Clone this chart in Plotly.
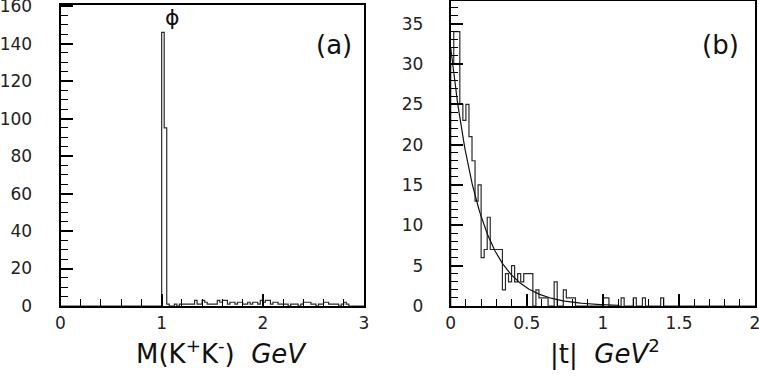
import numpy as np
import plotly.graph_objects as go

# ---------------- data ----------------
# Panel (a): M(K+K-) histogram, bin width 0.025 GeV, first bin starts at 1.0
mass_bin_width = 0.025
mass_start = 1.0
mass_counts = [146, 95,
               1, 0, 0, 1, 0, 1, 1, 1, 1, 1, 1, 3, 1, 1, 3, 2, 1, 1, 1, 1,
               3, 2, 3, 3, 1, 2, 2, 1, 2, 2, 1, 1, 2, 1, 2, 2, 1, 3, 2, 3,
               3, 1, 2, 2, 1, 1, 1, 1, 0, 1, 1, 1, 0, 1, 2, 2, 2, 1, 1, 0,
               1, 1, 2, 2, 1, 1, 1, 1, 0, 1, 2, 1, 0]
mass_range = [0, 3]

# Panel (b): |t| histogram, bin width 0.02 GeV^2, first bin starts at 0
t_bin_width = 0.02
t_start = 0.0
t_counts = [30, 34, 34, 25, 23, 25, 21, 18, 13, 15,
            6, 7, 11, 7, 7, 7, 7, 2, 4, 3,
            5, 3, 4, 3, 4, 4, 4, 0, 2, 1,
            1, 1, 0, 0, 3, 0, 0, 2, 1, 1,
            1, 0, 0, 0, 0, 0, 0, 0, 0, 0,
            1, 1, 0, 0, 0, 0, 1, 0, 0, 0,
            1, 0, 0, 1, 0, 0, 0, 0, 0, 1]
t_range = [0, 2]

# exponential fit A*exp(-b|t|)
fit_A = 32.0
fit_b = 5.3
fit_tmax = 1.1

W, H = 759, 377
FONT = "DejaVu Sans"


def step_xy(start, width, counts, lo, hi):
    xs = [lo, start]
    ys = [0, counts[0]]
    for i, c in enumerate(counts):
        xs.append(start + i * width)
        ys.append(c)
    xs.append(start + len(counts) * width)
    ys.append(0)
    xs.append(hi)
    ys.append(0)
    return xs, ys


ma_x, ma_y = step_xy(mass_start, mass_bin_width, mass_counts, *mass_range)
t_x, t_y = step_xy(t_start, t_bin_width, t_counts, *t_range)
fit_t = np.linspace(0, fit_tmax, 300)
fit_y = fit_A * np.exp(-fit_b * fit_t)

fig = go.Figure()
fig.add_trace(go.Scatter(x=ma_x, y=ma_y, mode="lines", line_shape="hv",
                         line=dict(color="#2a2a2a", width=1.2), xaxis="x", yaxis="y"))
fig.add_trace(go.Scatter(x=t_x, y=t_y, mode="lines", line_shape="hv",
                         line=dict(color="#2a2a2a", width=1.2), xaxis="x2", yaxis="y2"))
fig.add_trace(go.Scatter(x=fit_t, y=fit_y, mode="lines",
                         line=dict(color="#111", width=1.2), xaxis="x2", yaxis="y2"))

common = dict(showgrid=False, zeroline=False, showline=True, mirror=True,
              linecolor="black", linewidth=2, ticks="inside", ticklen=12,
              tickwidth=1.5, tickcolor="black", automargin=False,
              ticklabeloverflow="allow", layer="above traces",
              tickfont=dict(family=FONT, size=17, color="#222"))
minor_common = dict(ticks="inside", ticklen=7, tickcolor="black", tickwidth=1.4)


def px_x(p):
    return p / W


def px_y(p):
    return 1 - p / H


fig.update_layout(
    width=W, height=H, margin=dict(l=0, r=0, t=0, b=0, autoexpand=False),
    paper_bgcolor="white", plot_bgcolor="white", showlegend=False,
    xaxis=dict(domain=[px_x(60.5), px_x(364)], range=mass_range, dtick=1, tick0=0,
               anchor="y", ticklabelstandoff=1,
               minor=dict(dtick=0.2, **minor_common), **common),
    yaxis=dict(domain=[px_y(306), px_y(5)], range=[0, 160.6], dtick=20, tick0=0,
               anchor="x", ticklabelstandoff=23,
               minor=dict(dtick=5, **minor_common), **common),
    xaxis2=dict(domain=[px_x(450.7), px_x(755)], range=t_range, dtick=0.5, tick0=0,
                anchor="y2", ticklabelstandoff=1,
                minor=dict(dtick=0.1, **minor_common), **common),
    yaxis2=dict(domain=[px_y(306), px_y(1)], range=[0, 37.8], dtick=5, tick0=0,
                anchor="x2", ticklabelstandoff=22,
                minor=dict(dtick=1, **minor_common), **common),
)

ann_font = dict(family=FONT, size=26, color="#111")
fig.add_annotation(text="(a)", x=px_x(334), y=px_y(45), xref="paper", yref="paper",
                   showarrow=False, font=ann_font, xanchor="center", yanchor="middle")
fig.add_annotation(text="(b)", x=px_x(720), y=px_y(45), xref="paper", yref="paper",
                   showarrow=False, font=ann_font, xanchor="center", yanchor="middle")
fig.add_annotation(text="ϕ", x=1.11, y=154, xref="x", yref="y",
                   showarrow=False, font=dict(family=FONT, size=22, color="#111"),
                   xanchor="center", yanchor="middle")
fig.add_annotation(text="M(K<sup>+</sup>K<sup>-</sup>)  <i>GeV</i>",
                   x=px_x(221), y=px_y(352), xref="paper", yref="paper",
                   showarrow=False, font=ann_font, xanchor="center", yanchor="middle")
fig.add_annotation(text="|t|  <i>GeV</i><sup>2</sup>",
                   x=px_x(605), y=px_y(352), xref="paper", yref="paper",
                   showarrow=False, font=ann_font, xanchor="center", yanchor="middle")

fig.write_html("out.html")
